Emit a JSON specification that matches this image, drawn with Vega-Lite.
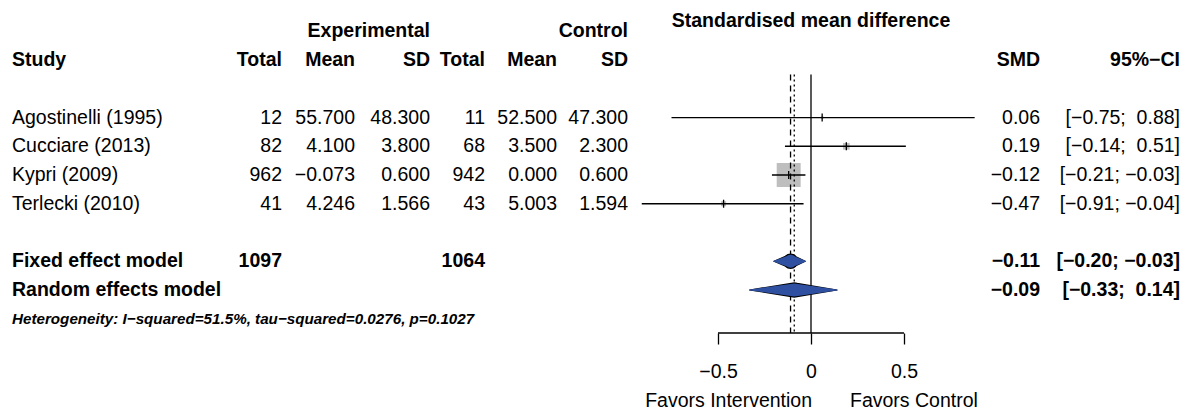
{
  "$schema": "https://vega.github.io/schema/vega-lite/v6.json",
  "padding": {"left": 12, "top": 10, "right": 3, "bottom": 0},
  "autosize": {"type": "pad"},
  "spacing": 0,
  "bounds": "flush",
  "background": "white",
  "config": {
    "view": {"stroke": null},
    "text": {"font": "Liberation Sans", "fontSize": 19.5, "color": "black"},
    "axis": {"labelFont": "Liberation Sans", "titleFont": "Liberation Sans"}
  },
  "datasets": {
    "rows": [
      {"row": "Agostinelli (1995)", "kind": "study", "eN": 12, "eMean": 55.7, "eSD": 48.3, "cN": 11, "cMean": 52.5, "cSD": 47.3, "smd": 0.06, "lo": -0.75, "hi": 0.88, "ci": "[−0.75;\u00a0\u00a00.88]", "w": 1.1},
      {"row": "Cucciare (2013)", "kind": "study", "eN": 82, "eMean": 4.1, "eSD": 3.8, "cN": 68, "cMean": 3.5, "cSD": 2.3, "smd": 0.19, "lo": -0.14, "hi": 0.51, "ci": "[−0.14;\u00a0\u00a00.51]", "w": 6.8},
      {"row": "Kypri (2009)", "kind": "study", "eN": 962, "eMean": -0.073, "eSD": 0.6, "cN": 942, "cMean": 0.0, "cSD": 0.6, "smd": -0.12, "lo": -0.21, "hi": -0.03, "ci": "[−0.21; −0.03]", "w": 88.3},
      {"row": "Terlecki (2010)", "kind": "study", "eN": 41, "eMean": 4.246, "eSD": 1.566, "cN": 43, "cMean": 5.003, "cSD": 1.594, "smd": -0.47, "lo": -0.91, "hi": -0.04, "ci": "[−0.91; −0.04]", "w": 3.8},
      {"row": "Fixed effect model", "kind": "fixed", "eN": 1097, "cN": 1064, "smd": -0.11, "lo": -0.20, "hi": -0.03, "ci": "[−0.20; −0.03]"},
      {"row": "Random effects model", "kind": "random", "smd": -0.09, "lo": -0.33, "hi": 0.14, "ci": "[−0.33;\u00a0\u00a00.14]"}
    ]
  },
  "hconcat": [
    {
      "width": 270, "height": 316,
      "data": {"name": "rows"},
      "encoding": {"y": {"field": "row", "type": "nominal", "axis": null, "scale": {"type": "band", "paddingInner": 0, "paddingOuter": 0, "domain": ["hdr1", "hdr2", "b1", "Agostinelli (1995)", "Cucciare (2013)", "Kypri (2009)", "Terlecki (2010)", "b2", "Fixed effect model", "Random effects model", "het"]}}},
      "layer": [
        {"mark": {"type": "text", "align": "left", "baseline": "middle", "fontWeight": {"expr": "datum.kind === 'study' ? 'normal' : 'bold'"}},
         "encoding": {"x": {"value": 0}, "text": {"field": "row"}}},
        {"transform": [{"filter": "isValid(datum.eN)"}],
         "mark": {"type": "text", "align": "right", "baseline": "middle", "fontWeight": {"expr": "datum.kind === 'study' ? 'normal' : 'bold'"}},
         "encoding": {"x": {"value": "width"}, "text": {"field": "eN", "format": "d"}}},
        {"data": {"values": [{}]}, "mark": {"type": "text", "align": "left", "baseline": "middle", "fontWeight": "bold", "text": "Study"},
         "encoding": {"x": {"value": 0}, "y": {"datum": "hdr2"}}},
        {"data": {"values": [{}]}, "mark": {"type": "text", "align": "right", "baseline": "middle", "fontWeight": "bold", "text": "Total"},
         "encoding": {"x": {"value": "width"}, "y": {"datum": "hdr2"}}},
        {"data": {"values": [{}]}, "mark": {"type": "text", "align": "left", "baseline": "middle", "fontWeight": "bold", "fontStyle": "italic", "fontSize": 15.2, "text": "Heterogeneity: I−squared=51.5%, tau−squared=0.0276, p=0.1027"},
         "encoding": {"x": {"value": 0}, "y": {"datum": "het"}}}
      ]
    },
    {
      "width": 73, "height": 316,
      "data": {"name": "rows"},
      "encoding": {"y": {"field": "row", "type": "nominal", "axis": null, "scale": {"type": "band", "paddingInner": 0, "paddingOuter": 0, "domain": ["hdr1", "hdr2", "b1", "Agostinelli (1995)", "Cucciare (2013)", "Kypri (2009)", "Terlecki (2010)", "b2", "Fixed effect model", "Random effects model", "het"]}}},
      "layer": [
        {"transform": [{"filter": "isValid(datum.eMean)"}],
         "mark": {"type": "text", "align": "right", "baseline": "middle"},
         "encoding": {"x": {"value": "width"}, "text": {"field": "eMean", "format": ".3f"}}},
        {"data": {"values": [{}]}, "mark": {"type": "text", "align": "right", "baseline": "middle", "fontWeight": "bold", "text": "Mean"},
         "encoding": {"x": {"value": "width"}, "y": {"datum": "hdr2"}}}
      ]
    },
    {
      "width": 75, "height": 316,
      "data": {"name": "rows"},
      "encoding": {"y": {"field": "row", "type": "nominal", "axis": null, "scale": {"type": "band", "paddingInner": 0, "paddingOuter": 0, "domain": ["hdr1", "hdr2", "b1", "Agostinelli (1995)", "Cucciare (2013)", "Kypri (2009)", "Terlecki (2010)", "b2", "Fixed effect model", "Random effects model", "het"]}}},
      "layer": [
        {"transform": [{"filter": "isValid(datum.eSD)"}],
         "mark": {"type": "text", "align": "right", "baseline": "middle"},
         "encoding": {"x": {"value": "width"}, "text": {"field": "eSD", "format": ".3f"}}},
        {"data": {"values": [{}]}, "mark": {"type": "text", "align": "right", "baseline": "middle", "fontWeight": "bold", "text": "SD"},
         "encoding": {"x": {"value": "width"}, "y": {"datum": "hdr2"}}},
        {"data": {"values": [{}]}, "mark": {"type": "text", "align": "right", "baseline": "middle", "fontWeight": "bold", "text": "Experimental"},
         "encoding": {"x": {"value": "width"}, "y": {"datum": "hdr1"}}}
      ]
    },
    {
      "width": 55, "height": 316,
      "data": {"name": "rows"},
      "encoding": {"y": {"field": "row", "type": "nominal", "axis": null, "scale": {"type": "band", "paddingInner": 0, "paddingOuter": 0, "domain": ["hdr1", "hdr2", "b1", "Agostinelli (1995)", "Cucciare (2013)", "Kypri (2009)", "Terlecki (2010)", "b2", "Fixed effect model", "Random effects model", "het"]}}},
      "layer": [
        {"transform": [{"filter": "isValid(datum.cN)"}],
         "mark": {"type": "text", "align": "right", "baseline": "middle", "fontWeight": {"expr": "datum.kind === 'study' ? 'normal' : 'bold'"}},
         "encoding": {"x": {"value": "width"}, "text": {"field": "cN", "format": "d"}}},
        {"data": {"values": [{}]}, "mark": {"type": "text", "align": "right", "baseline": "middle", "fontWeight": "bold", "text": "Total"},
         "encoding": {"x": {"value": "width"}, "y": {"datum": "hdr2"}}}
      ]
    },
    {
      "width": 72, "height": 316,
      "data": {"name": "rows"},
      "encoding": {"y": {"field": "row", "type": "nominal", "axis": null, "scale": {"type": "band", "paddingInner": 0, "paddingOuter": 0, "domain": ["hdr1", "hdr2", "b1", "Agostinelli (1995)", "Cucciare (2013)", "Kypri (2009)", "Terlecki (2010)", "b2", "Fixed effect model", "Random effects model", "het"]}}},
      "layer": [
        {"transform": [{"filter": "isValid(datum.cMean)"}],
         "mark": {"type": "text", "align": "right", "baseline": "middle"},
         "encoding": {"x": {"value": "width"}, "text": {"field": "cMean", "format": ".3f"}}},
        {"data": {"values": [{}]}, "mark": {"type": "text", "align": "right", "baseline": "middle", "fontWeight": "bold", "text": "Mean"},
         "encoding": {"x": {"value": "width"}, "y": {"datum": "hdr2"}}}
      ]
    },
    {
      "width": 71, "height": 316,
      "data": {"name": "rows"},
      "encoding": {"y": {"field": "row", "type": "nominal", "axis": null, "scale": {"type": "band", "paddingInner": 0, "paddingOuter": 0, "domain": ["hdr1", "hdr2", "b1", "Agostinelli (1995)", "Cucciare (2013)", "Kypri (2009)", "Terlecki (2010)", "b2", "Fixed effect model", "Random effects model", "het"]}}},
      "layer": [
        {"transform": [{"filter": "isValid(datum.cSD)"}],
         "mark": {"type": "text", "align": "right", "baseline": "middle"},
         "encoding": {"x": {"value": "width"}, "text": {"field": "cSD", "format": ".3f"}}},
        {"data": {"values": [{}]}, "mark": {"type": "text", "align": "right", "baseline": "middle", "fontWeight": "bold", "text": "SD"},
         "encoding": {"x": {"value": "width"}, "y": {"datum": "hdr2"}}},
        {"data": {"values": [{}]}, "mark": {"type": "text", "align": "right", "baseline": "middle", "fontWeight": "bold", "text": "Control"},
         "encoding": {"x": {"value": "width"}, "y": {"datum": "hdr1"}}}
      ]
    },
    {
      "width": 366, "height": 316,
      "data": {"name": "rows"},
      "encoding": {"y": {"field": "row", "type": "nominal", "axis": null, "bandPosition": 0.5, "scale": {"type": "band", "paddingInner": 0, "paddingOuter": 0, "domain": ["hdr1", "hdr2", "b1", "Agostinelli (1995)", "Cucciare (2013)", "Kypri (2009)", "Terlecki (2010)", "b2", "Fixed effect model", "Random effects model", "het"]}}},
      "layer": [
        {"transform": [{"filter": "datum.kind === 'study'"}],
         "mark": {"type": "point", "shape": "square", "filled": true, "color": "#BEBEBE", "opacity": 1, "strokeWidth": 0},
         "encoding": {"x": {"field": "smd", "type": "quantitative", "scale": {"domain": [-0.984, 0.984], "nice": false, "zero": false}},
                      "size": {"field": "w", "type": "quantitative", "scale": {"domain": [0, 100], "range": [0, 650]}, "legend": null}}},
        {"data": {"values": [{}]},
         "mark": {"type": "rule", "color": "black", "strokeWidth": 1.3},
         "encoding": {"x": {"datum": 0, "type": "quantitative", "scale": {"domain": [-0.984, 0.984], "nice": false, "zero": false}},
                      "y": {"datum": "b1", "bandPosition": 0}, "y2": {"value": "height"}}},
        {"transform": [{"filter": "datum.kind !== 'study'"}],
         "mark": {"type": "rule", "color": "black", "strokeWidth": 1.3},
         "encoding": {"x": {"field": "smd", "type": "quantitative", "scale": {"domain": [-0.984, 0.984], "nice": false, "zero": false}},
                      "y": {"datum": "b1", "bandPosition": 0}, "y2": {"value": "height"},
                      "strokeDash": {"field": "kind", "type": "nominal", "scale": {"domain": ["fixed", "random"], "range": [[6, 5], [2, 3]]}, "legend": null}}},
        {"transform": [{"filter": "datum.kind === 'study'"}],
         "mark": {"type": "rule", "color": "black", "strokeWidth": 1.3},
         "encoding": {"x": {"field": "lo", "type": "quantitative", "scale": {"domain": [-0.984, 0.984], "nice": false, "zero": false},
                            "axis": {"values": [-0.5, 0, 0.5], "format": "~g", "domain": false, "grid": false, "ticks": true, "tickSize": 11, "tickColor": "black", "tickWidth": 1.3,
                                     "labelFontSize": 19.5, "labelColor": "black", "labelPadding": 18, "labelFlush": false,
                                     "title": "Favors Intervention\u00a0\u00a0\u00a0\u00a0\u00a0\u00a0\u00a0Favors Control",
                                     "titleFontSize": 19.5, "titleFontWeight": "normal", "titleColor": "black", "titlePadding": 11}},
                      "x2": {"field": "hi"}}},
        {"transform": [{"filter": "datum.kind === 'study'"}],
         "mark": {"type": "tick", "orient": "vertical", "size": 8, "thickness": 1.3, "color": "black", "opacity": 1},
         "encoding": {"x": {"field": "smd", "type": "quantitative", "scale": {"domain": [-0.984, 0.984], "nice": false, "zero": false}}}},
        {"transform": [{"filter": "datum.kind !== 'study'"}, {"fold": ["lo", "smd", "hi"], "as": ["part", "xv"]}],
         "mark": {"type": "trail", "color": "black"},
         "encoding": {"x": {"field": "xv", "type": "quantitative", "scale": {"domain": [-0.984, 0.984], "nice": false, "zero": false}},
                      "detail": {"field": "row", "type": "nominal"},
                      "order": {"field": "xv", "type": "quantitative"},
                      "size": {"condition": {"test": "datum.part === 'smd'", "value": 15.5}, "value": 0}}},
        {"transform": [{"filter": "datum.kind !== 'study'"}, {"fold": ["lo", "smd", "hi"], "as": ["part", "xv"]}],
         "mark": {"type": "trail", "color": "#2F4FA0"},
         "encoding": {"x": {"field": "xv", "type": "quantitative", "scale": {"domain": [-0.984, 0.984], "nice": false, "zero": false}},
                      "detail": {"field": "row", "type": "nominal"},
                      "order": {"field": "xv", "type": "quantitative"},
                      "size": {"condition": {"test": "datum.part === 'smd'", "value": 13}, "value": 0}}},
        {"data": {"values": [{}]},
         "mark": {"type": "rule", "color": "black", "strokeWidth": 1.3},
         "encoding": {"x": {"datum": -0.5, "type": "quantitative"}, "x2": {"datum": 0.5}, "y": {"value": "height"}}},
        {"data": {"values": [{}]},
         "mark": {"type": "text", "align": "center", "baseline": "middle", "fontWeight": "bold", "text": "Standardised mean difference"},
         "encoding": {"x": {"datum": 0, "type": "quantitative"}, "y": {"datum": "hdr1", "bandPosition": 0.134}}}
      ]
    },
    {
      "width": 46, "height": 316,
      "data": {"name": "rows"},
      "encoding": {"y": {"field": "row", "type": "nominal", "axis": null, "scale": {"type": "band", "paddingInner": 0, "paddingOuter": 0, "domain": ["hdr1", "hdr2", "b1", "Agostinelli (1995)", "Cucciare (2013)", "Kypri (2009)", "Terlecki (2010)", "b2", "Fixed effect model", "Random effects model", "het"]}}},
      "layer": [
        {"mark": {"type": "text", "align": "right", "baseline": "middle", "fontWeight": {"expr": "datum.kind === 'study' ? 'normal' : 'bold'"}},
         "encoding": {"x": {"value": "width"}, "text": {"field": "smd", "format": ".2f"}}},
        {"data": {"values": [{}]}, "mark": {"type": "text", "align": "right", "baseline": "middle", "fontWeight": "bold", "text": "SMD"},
         "encoding": {"x": {"value": "width"}, "y": {"datum": "hdr2"}}}
      ]
    },
    {
      "width": 140, "height": 316,
      "data": {"name": "rows"},
      "encoding": {"y": {"field": "row", "type": "nominal", "axis": null, "scale": {"type": "band", "paddingInner": 0, "paddingOuter": 0, "domain": ["hdr1", "hdr2", "b1", "Agostinelli (1995)", "Cucciare (2013)", "Kypri (2009)", "Terlecki (2010)", "b2", "Fixed effect model", "Random effects model", "het"]}}},
      "layer": [
        {"mark": {"type": "text", "align": "right", "baseline": "middle", "fontWeight": {"expr": "datum.kind === 'study' ? 'normal' : 'bold'"}},
         "encoding": {"x": {"value": "width"}, "text": {"field": "ci"}}},
        {"data": {"values": [{}]}, "mark": {"type": "text", "align": "right", "baseline": "middle", "fontWeight": "bold", "text": "95%−CI"},
         "encoding": {"x": {"value": "width"}, "y": {"datum": "hdr2"}}}
      ]
    }
  ]
}
